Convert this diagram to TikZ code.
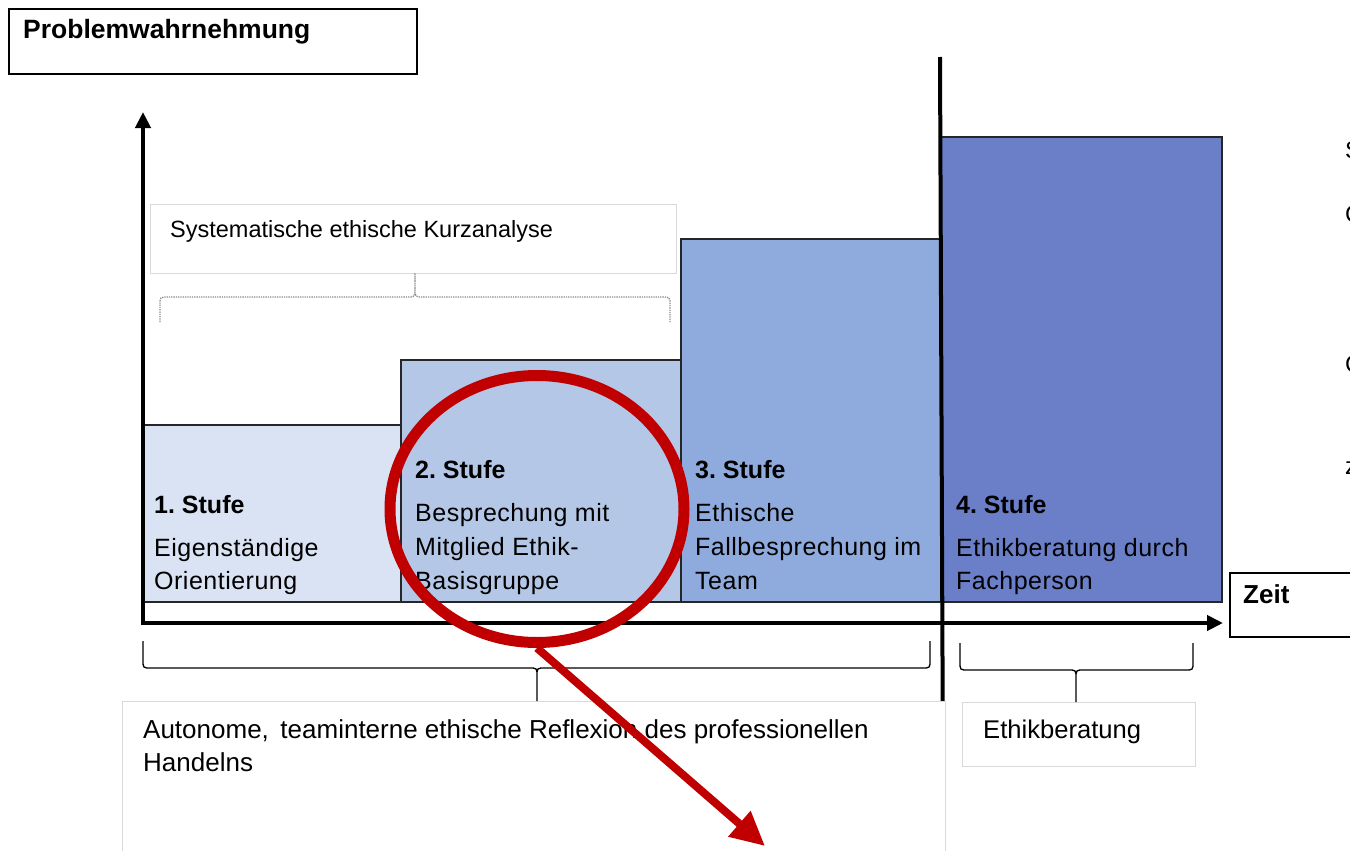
\documentclass[tikz,border=0pt]{standalone}
\usepackage{fontspec}
\setmainfont{Liberation Sans}
\usetikzlibrary{arrows.meta,shapes.geometric}
\definecolor{stufeA}{HTML}{DAE3F3}
\definecolor{stufeB}{HTML}{B4C7E7}
\definecolor{stufeC}{HTML}{8FAADC}
\definecolor{stufeD}{HTML}{6A7FC8}
\definecolor{markred}{HTML}{C00000}
\definecolor{softframe}{HTML}{D9D9D9}
\frenchspacing
\begin{document}
\begin{tikzpicture}[x=1pt,y=-1pt,
  stufebox/.style={draw=black!85, line width=1.6pt, anchor=north west, inner sep=0pt},
  labelbox/.style={draw=softframe, line width=0.8pt, fill=white, anchor=north west, inner sep=0pt},
  titlebox/.style={draw=black, line width=2.2pt, fill=white, anchor=north west, inner sep=0pt},
  txt/.style={anchor=base west, inner sep=0pt, font=\fontsize{25}{28}\selectfont\addfontfeature{LetterSpace=2}},
  ttl/.style={anchor=base west, inner sep=0pt, font=\fontsize{25}{28}\selectfont\bfseries},
  axis/.style={line width=4pt, -{Triangle[length=16pt,width=15pt]}},
  divider/.style={line width=4pt},
  bracedraw/.style={black, line width=1.3pt},
  bracedot/.style={black!45, line width=1.3pt, densely dotted},
  redmark/.style={draw=markred, line width=11pt},
  redarrow/.style={markred, line width=8pt, -{Triangle[length=34pt,width=32pt]}}
]
\useasboundingbox (0,0) rectangle (1350,851);

% title and time label boxes
\node[titlebox, minimum width=408, minimum height=65] (titlebox) at (8,8) {};
\node[ttl, font=\fontsize{26.5}{28}\selectfont\bfseries] (title) at (23,39) {Problemwahrnehmung};
\node[titlebox, minimum width=140, minimum height=64] (zeitbox) at (1229,572) {};
\node[ttl, font=\fontsize{26}{28}\selectfont\bfseries] (zeit) at (1243,603) {Zeit};

% short analysis label and its dotted brace
\node[labelbox, minimum width=526, minimum height=69] (kurzbox) at (150,204) {};
\node[anchor=base west, inner sep=0pt, font=\fontsize{23.5}{28}\selectfont] (kurz) at (170,237) {Systematische ethische Kurzanalyse};
\coordinate (kb) at (415,273);
\draw[bracedot] (160,322) -- (160,305) .. controls (160,297) .. (168,297)
  -- (407,297) .. controls (415,297) .. (415,289) -- (kb)
  -- (415,289) .. controls (415,297) .. (423,297)
  -- (662,297) .. controls (670,297) .. (670,305) -- (670,322);

% the four stages
\node[stufebox, fill=stufeA, minimum width=257, minimum height=177] (s1) at (143,424) {};
\node[stufebox, fill=stufeB, minimum width=280, minimum height=242] (s2) at (400,359) {};
\node[stufebox, fill=stufeC, minimum width=260, minimum height=363] (s3) at (680,238) {};
\node[stufebox, fill=stufeD, minimum width=281, minimum height=465] (s4) at (940,136) {};

\node[ttl] (s1t) at (154,513) {1. Stufe};
\node[txt] (s1a) at (154,556) {Eigenständige};
\node[txt] (s1b) at (154,589) {Orientierung};

\node[ttl] (s2t) at (415,478) {2. Stufe};
\node[txt] (s2a) at (415,521) {Besprechung mit};
\node[txt] (s2b) at (415,555) {Mitglied Ethik-};
\node[txt] (s2c) at (415,589) {Basisgruppe};

\node[ttl] (s3t) at (695,478) {3. Stufe};
\node[txt] (s3a) at (695,521) {Ethische};
\node[txt] (s3b) at (695,555) {Fallbesprechung im};
\node[txt] (s3c) at (695,589) {Team};

\node[ttl] (s4t) at (956,513) {4. Stufe};
\node[txt] (s4a) at (956,556) {Ethikberatung durch};
\node[txt] (s4b) at (956,589) {Fachperson};

% axes and the divider between team reflection and consultation
\coordinate (origin) at (141,623);
\coordinate (ytip) at (143,112);
\coordinate (xtip) at (1223,623);
\draw[axis] (143,625) -- (ytip);
\draw[axis] (origin) -- (xtip);
\draw[divider] (940,57) -- (943,779);

% lower labels with their braces
\node[labelbox, minimum width=823, minimum height=180] (autobox) at (122,701) {};
\node[anchor=base west, inner sep=0pt, font=\fontsize{26}{28}\selectfont] (auto1) at (143,738) {Autonome,\, teaminterne ethische Reflexion des professionellen};
\node[anchor=base west, inner sep=0pt, font=\fontsize{26}{28}\selectfont] (auto2) at (143,771) {Handelns};
\coordinate (ab) at (537,701);
\draw[bracedraw] (143,641) -- (143,660) .. controls (143,668) .. (151,668)
  -- (529,668) .. controls (537,668) .. (537,676) -- (ab)
  -- (537,676) .. controls (537,668) .. (545,668)
  -- (922,668) .. controls (930,668) .. (930,660) -- (930,641);

\node[labelbox, minimum width=233, minimum height=64] (ethbox) at (962,702) {};
\node[anchor=base west, inner sep=0pt, font=\fontsize{25.6}{28}\selectfont] (eth) at (983,738) {Ethikberatung};
\coordinate (eb) at (1076,702);
\draw[bracedraw] (960,643) -- (960,662) .. controls (960,670) .. (968,670)
  -- (1068,670) .. controls (1076,670) .. (1076,678) -- (eb)
  -- (1076,678) .. controls (1076,670) .. (1084,670)
  -- (1185,670) .. controls (1193,670) .. (1193,662) -- (1193,643);

% letters cut off at the right edge
\node[anchor=base west, inner sep=0pt, font=\fontsize{24}{28}\selectfont] (edge1) at (1345,158) {S};
\node[anchor=base west, inner sep=0pt, font=\fontsize{24}{28}\selectfont] (edge2) at (1345,222) {C};
\node[anchor=base west, inner sep=0pt, font=\fontsize{24}{28}\selectfont] (edge3) at (1345,372) {C};
\node[anchor=base west, inner sep=0pt, font=\fontsize{24}{28}\selectfont] (edge4) at (1345,474) {z};

% red highlight of stage 2 and pointer
\node[redmark, ellipse, minimum width=294, minimum height=267, inner sep=0pt] (mark) at (537,509) {};
\coordinate (pointer) at (765,846);
\draw[redarrow] (mark.south) -- (pointer);
\end{tikzpicture}
\end{document}
